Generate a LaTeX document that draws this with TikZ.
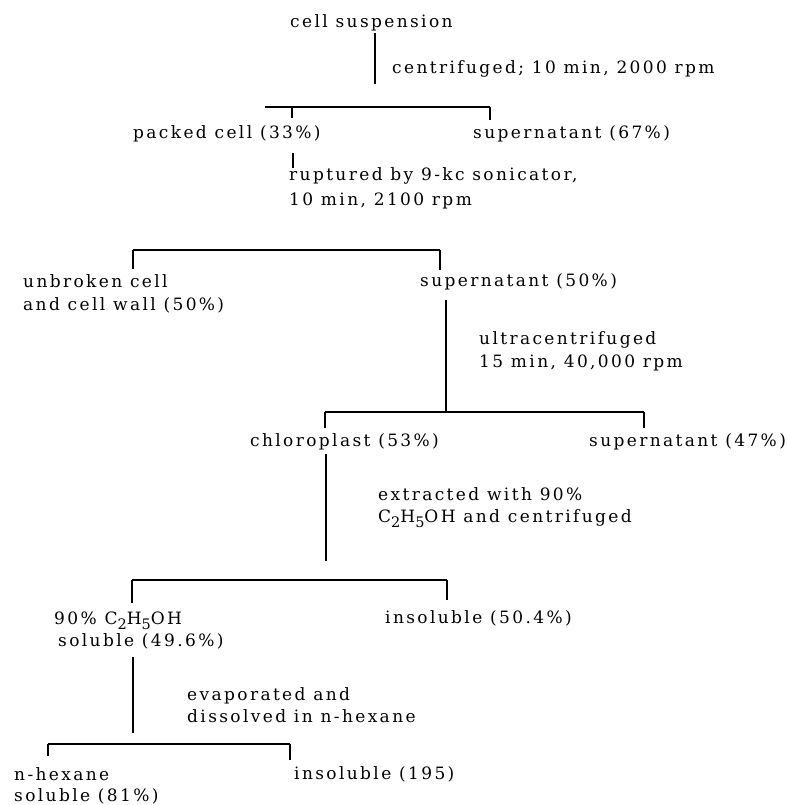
\documentclass[tikz,border=0pt]{standalone}
\usepackage{fontspec}
\setmainfont{DejaVu Serif}[LetterSpace=14]
\newcommand\lblfont{\fontsize{17}{21}\selectfont}
\newcommand\sbs[1]{\raisebox{-5pt}{\fontsize{14.5}{14.5}\selectfont #1}}
\begin{document}
\begin{tikzpicture}[x=1pt,y=-1pt,
  lbl/.style={inner sep=0pt, anchor=base west, font=\lblfont},
  conn/.style={line width=1.4pt},
  barline/.style={line width=1.8pt},
  tickline/.style={line width=1.4pt}]
\useasboundingbox (0,0) rectangle (787,805);
\fill[white] (0,0) rectangle (787,805);

% labels
\node[lbl] (cs)  at (290,28)  {cell suspension};
\node[lbl] (c1)  at (392,74)  {centrifuged; 10 min, 2000 rpm};
\node[lbl] (pc)  at (133,139) {packed cell (33\%)};
\node[lbl] (s67) at (473,139) {supernatant (67\%)};
\node[lbl] (r1)  at (289,181) {ruptured by 9-kc sonicator,};
\node[lbl] (r2)  at (289,205) {10 min, 2100 rpm};
\node[lbl] (ub1) at (23,287)  {unbroken cell};
\node[lbl] (ub2) at (23,310)  {and cell wall (50\%)};
\node[lbl] (s50) at (420,286) {supernatant (50\%)};
\node[lbl] (u1)  at (479,344) {ultracentrifuged};
\node[lbl] (u2)  at (479,367) {15 min, 40,000 rpm};
\node[lbl] (ch)  at (250,446) {chloroplast (53\%)};
\node[lbl] (s47) at (589,446) {supernatant (47\%)};
\node[lbl] (e1)  at (378,500) {extracted with 90\%};
\node[lbl] (e2)  at (378,522) {C\sbs{2}H\sbs{5}OH and centrifuged};
\node[lbl] (so1) at (54,624)  {90\% C\sbs{2}H\sbs{5}OH};
\node[lbl] (so2) at (58,646)  {soluble (49.6\%)};
\node[lbl] (in1) at (385,623) {insoluble (50.4\%)};
\node[lbl] (ev1) at (187,700) {evaporated and};
\node[lbl] (ev2) at (187,722) {dissolved in n-hexane};
\node[lbl] (nh1) at (14,780)  {n-hexane};
\node[lbl] (nh2) at (14,801)  {soluble (81\%)};
\node[lbl] (ins) at (294,779) {insoluble (195)};

% connector points
\coordinate (v1a) at (375,33);  \coordinate (v1b) at (375,84);
\coordinate (b1l) at (265,107); \coordinate (b1r) at (490,107);
\coordinate (t1a) at (292,107); \coordinate (t1b) at (292,118);
\coordinate (t1c) at (490,120);
\coordinate (v2a) at (293,153); \coordinate (v2b) at (293,168);
\coordinate (b2l) at (133,250); \coordinate (b2r) at (440,250);
\coordinate (t2a) at (133,269); \coordinate (t2b) at (440,270);
\coordinate (v3a) at (446,300); \coordinate (v3b) at (446,411);
\coordinate (b3l) at (325,412); \coordinate (b3r) at (644,412);
\coordinate (t3b) at (325,428); \coordinate (t3c) at (644,428);
\coordinate (v4a) at (326,454); \coordinate (v4b) at (326,561);
\coordinate (b4l) at (132,580); \coordinate (b4r) at (447,580);
\coordinate (t4a) at (132,603); \coordinate (t4b) at (447,600);
\coordinate (v5a) at (133,657); \coordinate (v5b) at (133,733);
\coordinate (b5l) at (48,744);  \coordinate (b5r) at (290,744);
\coordinate (t5a) at (48,756);  \coordinate (t5b) at (290,760);

% connectors
\draw[conn] (v1a) -- (v1b);
\draw[barline] (b1l) -- (b1r);
\draw[tickline] (t1a) -- (t1b);
\draw[tickline] (b1r) -- (t1c);
\draw[conn] (v2a) -- (v2b);
\draw[barline] (b2l) -- (b2r);
\draw[tickline] (b2l) -- (t2a);
\draw[tickline] (b2r) -- (t2b);
\draw[conn] (v3a) -- (v3b);
\draw[barline] (b3l) -- (b3r);
\draw[tickline] (b3l) -- (t3b);
\draw[tickline] (b3r) -- (t3c);
\draw[conn] (v4a) -- (v4b);
\draw[barline] (b4l) -- (b4r);
\draw[tickline] (b4l) -- (t4a);
\draw[tickline] (b4r) -- (t4b);
\draw[conn] (v5a) -- (v5b);
\draw[barline] (b5l) -- (b5r);
\draw[tickline] (b5l) -- (t5a);
\draw[tickline] (b5r) -- (t5b);
\end{tikzpicture}
\end{document}
